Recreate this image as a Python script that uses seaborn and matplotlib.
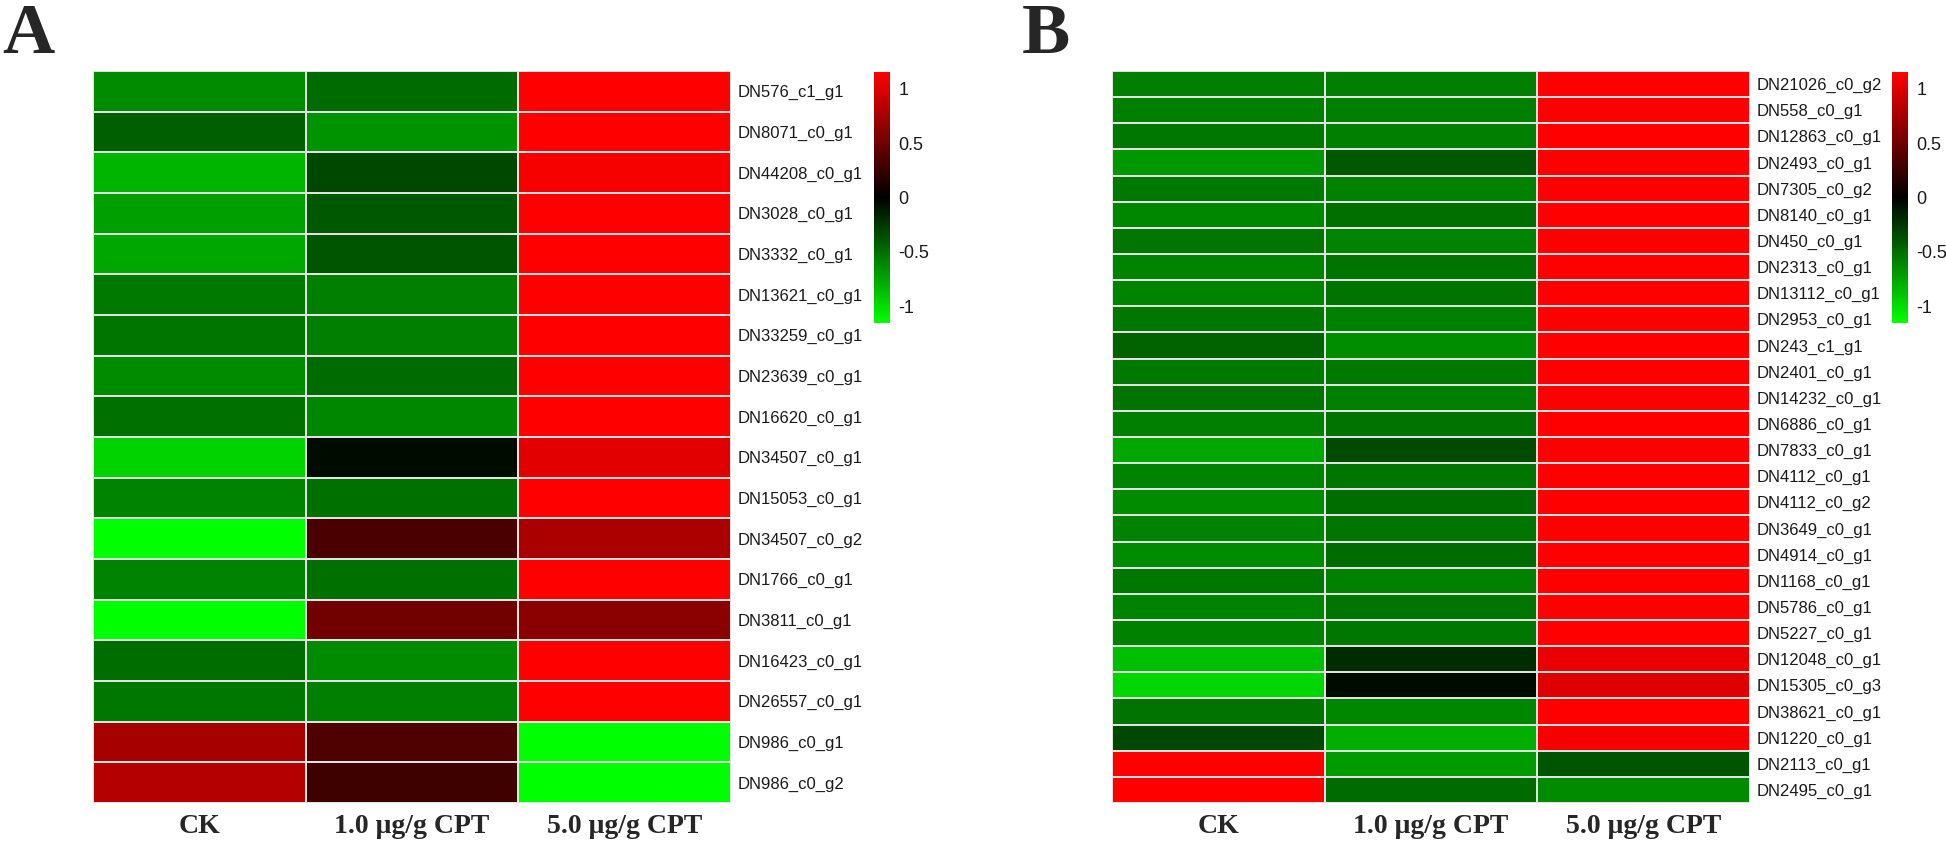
import numpy as np
import pandas as pd
import seaborn as sns
import matplotlib.pyplot as plt
from matplotlib.colors import LinearSegmentedColormap

# row-scaled expression (z-scores)
groups = ["CK", "1.0 μg/g CPT", "5.0 μg/g CPT"]

genes_a = ["DN576_c1_g1", "DN8071_c0_g1", "DN44208_c0_g1", "DN3028_c0_g1",
           "DN3332_c0_g1", "DN13621_c0_g1", "DN33259_c0_g1", "DN23639_c0_g1",
           "DN16620_c0_g1", "DN34507_c0_g1", "DN15053_c0_g1", "DN34507_c0_g2",
           "DN1766_c0_g1", "DN3811_c0_g1", "DN16423_c0_g1", "DN26557_c0_g1",
           "DN986_c0_g1", "DN986_c0_g2"]
ck_a = [-0.63, -0.43, -0.82, -0.72, -0.75, -0.55, -0.53, -0.63, -0.51,
        -0.95, -0.59, -1.15, -0.59, -1.15, -0.49, -0.54, 0.75, 0.82]
low_a = [-0.48, -0.66, -0.32, -0.40, -0.38, -0.57, -0.57, -0.48, -0.61,
         -0.05, -0.51, 0.34, -0.51, 0.51, -0.63, -0.57, 0.36, 0.28]
high_a = [1.15, 1.15, 1.11, 1.15, 1.15, 1.15, 1.15, 1.15, 1.15,
          1.02, 1.15, 0.77, 1.15, 0.63, 1.15, 1.15, -1.15, -1.15]

genes_b = ["DN21026_c0_g2", "DN558_c0_g1", "DN12863_c0_g1", "DN2493_c0_g1",
           "DN7305_c0_g2", "DN8140_c0_g1", "DN450_c0_g1", "DN2313_c0_g1",
           "DN13112_c0_g1", "DN2953_c0_g1", "DN243_c1_g1", "DN2401_c0_g1",
           "DN14232_c0_g1", "DN6886_c0_g1", "DN7833_c0_g1", "DN4112_c0_g1",
           "DN4112_c0_g2", "DN3649_c0_g1", "DN4914_c0_g1", "DN1168_c0_g1",
           "DN5786_c0_g1", "DN5227_c0_g1", "DN12048_c0_g1", "DN15305_c0_g3",
           "DN38621_c0_g1", "DN1220_c0_g1", "DN2113_c0_g1", "DN2495_c0_g1"]
ck_b = [-0.57, -0.57, -0.54, -0.68, -0.55, -0.61, -0.53, -0.59, -0.59, -0.54,
        -0.45, -0.55, -0.52, -0.57, -0.75, -0.59, -0.63, -0.59, -0.63, -0.54,
        -0.59, -0.58, -0.86, -0.97, -0.52, -0.32, 1.15, 1.15]
low_b = [-0.57, -0.57, -0.57, -0.40, -0.58, -0.50, -0.59, -0.52, -0.52, -0.58,
         -0.64, -0.55, -0.57, -0.52, -0.34, -0.53, -0.49, -0.53, -0.48, -0.58,
         -0.53, -0.54, -0.20, -0.05, -0.61, -0.79, -0.70, -0.48]
high_b = [1.15, 1.15, 1.15, 1.15, 1.15, 1.15, 1.15, 1.15, 1.15, 1.15,
          1.15, 1.15, 1.15, 1.15, 1.15, 1.15, 1.15, 1.15, 1.15, 1.15,
          1.15, 1.15, 1.06, 1.01, 1.15, 1.11, -0.38, -0.63]

cbar_ticks = [1, 0.5, 0, -0.5, -1]
cbar_labels = ["1", "0.5", "0", "-0.5", "-1"]

sns.set_style("white")
plt.rcParams["font.family"] = ["Liberation Sans", "DejaVu Sans"]

cmap = LinearSegmentedColormap.from_list("gkr", ["#00FF00", "#000000", "#FF0000"])
lim = 2 / np.sqrt(3)

W, H = 1946, 843
fig = plt.figure(figsize=(W / 100, H / 100), dpi=100)


def box(x0, y0, x1, y1):
    return [x0 / W, 1 - y1 / H, (x1 - x0) / W, (y1 - y0) / H]


def draw_panel(genes, ck, low, high, hm_box, cb_box, letter, letter_x):
    df = pd.DataFrame({groups[0]: ck, groups[1]: low, groups[2]: high}, index=genes)
    ax = fig.add_axes(box(*hm_box))
    cax = fig.add_axes(box(*cb_box))
    sns.heatmap(df, ax=ax, cmap=cmap, vmin=-lim, vmax=lim,
                linewidths=1.2, linecolor="#e2e2e2", cbar_ax=cax)
    ax.yaxis.tick_right()
    ax.set_yticklabels(genes, rotation=0, fontsize=12, color="#1a1a1a")
    ax.set_xticklabels(groups, rotation=0, fontsize=20, fontweight="bold",
                       family=["Liberation Serif", "DejaVu Serif"])
    ax.tick_params(axis="both", length=0)
    ax.tick_params(axis="y", pad=4.5)
    ax.tick_params(axis="x", pad=8)
    ax.set_xlabel("")
    ax.set_ylabel("")

    cbar = ax.collections[0].colorbar
    cbar.set_ticks(cbar_ticks)
    cbar.set_ticklabels(cbar_labels)
    cbar.outline.set_visible(False)
    cax.tick_params(length=0, pad=6, labelsize=13, labelcolor="#1a1a1a")

    fig.text(letter_x / W, 1 - 3 / H, letter, fontsize=52, fontweight="bold",
             family=["Liberation Serif", "DejaVu Serif"], va="top", ha="left")


draw_panel(genes_a, ck_a, low_a, high_a, (93, 71, 731, 803), (874, 72, 890, 323), "A", 2)
draw_panel(genes_b, ck_b, low_b, high_b, (1112, 71, 1750, 803), (1892, 72, 1908, 323), "B", 1022)

fig.savefig("out.png", dpi=100, facecolor="white")
